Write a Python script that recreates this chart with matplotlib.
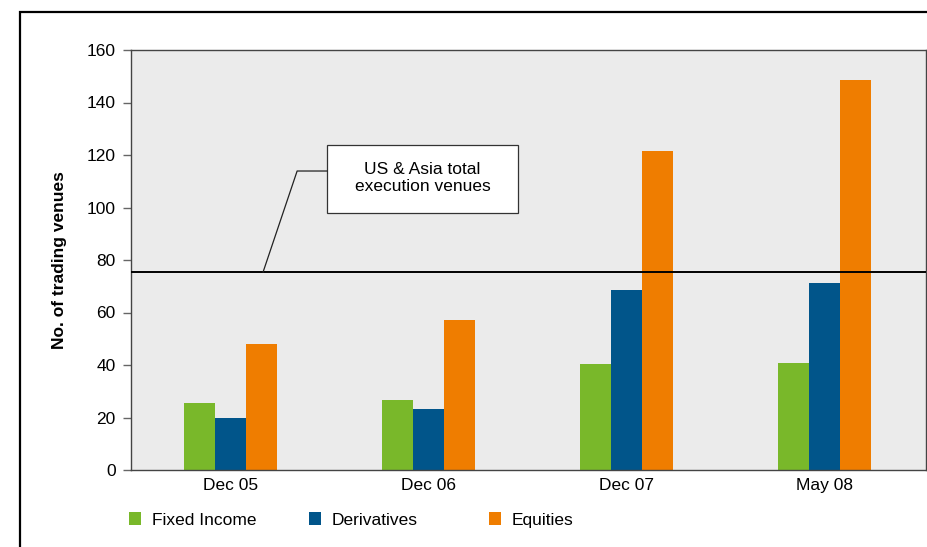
import matplotlib
matplotlib.use("Agg")
import matplotlib.pyplot as plt
from matplotlib.patches import Rectangle
import numpy as np

plt.rcParams['font.family'] = ['Liberation Sans', 'DejaVu Sans']

# data
periods = ['Dec 05', 'Dec 06', 'Dec 07', 'May 08']
fixed_income = [25.5, 26.7, 40.4, 40.8]
derivatives = [19.8, 23.2, 68.6, 71.2]
equities = [48.0, 57.1, 121.5, 148.6]
us_asia_total = 75.4

colors = {'Fixed Income': '#79b82a', 'Derivatives': '#01558a', 'Equities': '#ef7d00'}
fs = 12.5

fig = plt.figure(figsize=(9.28, 5.47), dpi=100)
ax = fig.add_axes([131/928, 77/547, 795/928, 420/547])
ax.set_facecolor('#ebebeb')

x = np.arange(len(periods))
w = 0.157
b1 = ax.bar(x - w, fixed_income, w, color=colors['Fixed Income'], label='Fixed Income')
b2 = ax.bar(x, derivatives, w, color=colors['Derivatives'], label='Derivatives')
b3 = ax.bar(x + w, equities, w, color=colors['Equities'], label='Equities')

ax.axhline(us_asia_total, color='black', lw=1.4, zorder=3)

# annotation box + leader line
ax.add_patch(Rectangle((0.487, 97.9), 0.965, 25.9, facecolor='white',
                       edgecolor='#333333', lw=0.9, zorder=4))
ax.text(0.97, 111.2, 'US & Asia total\nexecution venues', ha='center', va='center',
        fontsize=fs, linespacing=1.1, zorder=5)
ax.plot([0.487, 0.336, 0.164], [113.9, 113.9, us_asia_total], color='#222222',
        lw=0.9, zorder=4)

ax.set_xlim(-0.503, 3.512)
ax.set_ylim(0, 160)
ax.set_yticks(range(0, 161, 20))
ax.set_xticks(x)
ax.set_xticklabels(periods)
ax.tick_params(axis='y', length=6, width=1, color='#666666', pad=5, labelsize=fs)
ax.tick_params(axis='x', length=0, pad=6, labelsize=fs)
for s in ax.spines.values():
    s.set_color('#444444')
    s.set_linewidth(1.0)
ax.set_ylabel('No. of trading venues', fontsize=fs, fontweight='bold', labelpad=14)

# legend, one entry per column at fixed spots
for bars, xpos in [(b1, 129), (b2, 309), (b3, 489)]:
    lg = fig.legend(handles=[bars], loc='center left', bbox_to_anchor=(xpos/928, 27/547),
                    frameon=False, fontsize=fs, handlelength=0.72, handleheight=0.72,
                    handletextpad=0.6, borderpad=0, borderaxespad=0)

# outer frame
fig.patches.append(Rectangle((20/928, -0.1), 1.2, (547-12)/547 + 0.1,
                             transform=fig.transFigure, fill=False,
                             edgecolor='black', lw=1.6))

fig.savefig('out.png', dpi=100)
